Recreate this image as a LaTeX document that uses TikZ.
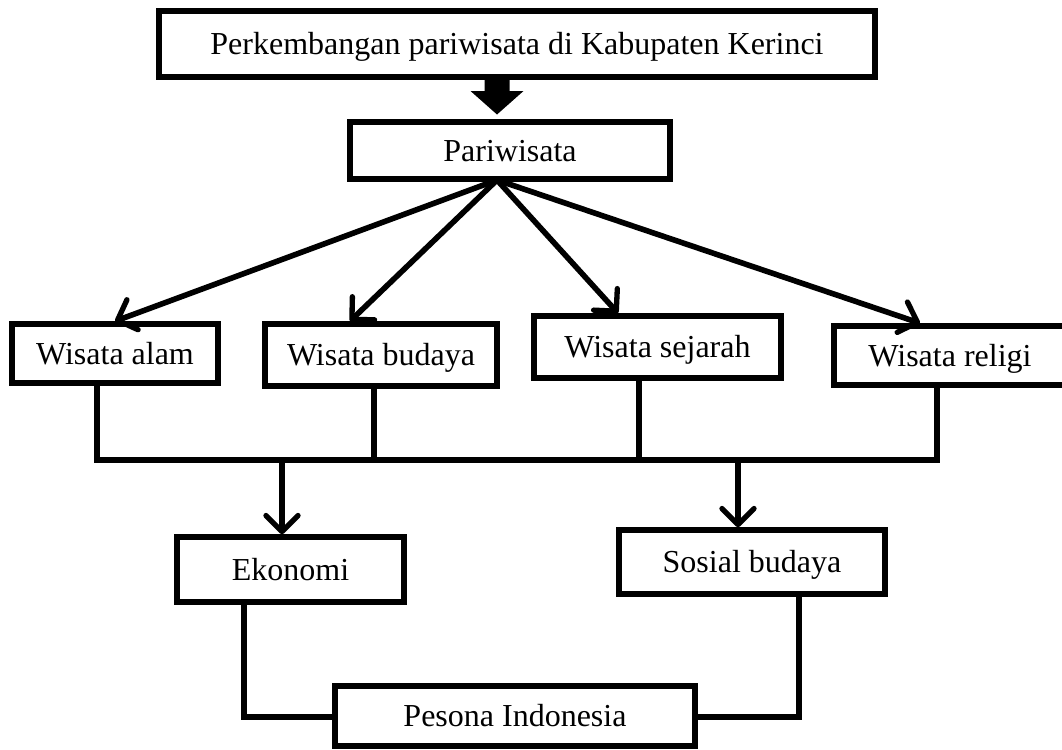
\documentclass[tikz,border=0pt]{standalone}
\usepackage{fontspec}
\setmainfont{Liberation Serif}
\usetikzlibrary{arrows.meta,calc}
\begin{document}
\begin{tikzpicture}[x=0.75pt,y=-0.75pt,
  box/.style={draw,line width=4.2pt,inner sep=0pt,fill=white,
    font=\fontsize{24}{28}\selectfont,text height=15.8pt,text depth=0pt},
  link/.style={line width=4.2pt},
  arr/.style={link,-{Straight Barb[length=12pt,width=24pt,line width=4pt,round]}}]
\clip (0,0) rectangle (1062,749);
\fill[white] (0,0) rectangle (1062,749);
% boxes
\node[box,minimum width=537pt,minimum height=49.5pt] (top) at (517,44) {Perkembangan pariwisata di Kabupaten Kerinci};
\node[box,minimum width=240pt,minimum height=42.75pt] (pari) at (510,150.5) {Pariwisata};
\node[box,minimum width=154.5pt,minimum height=44.25pt] (alam) at (115,353.5) {Wisata alam};
\node[box,minimum width=174pt,minimum height=46.5pt] (budaya) at (381,355) {Wisata budaya};
\node[box,minimum width=185.25pt,minimum height=46.5pt] (sejarah) at (657.5,347) {Wisata sejarah};
\node[box,minimum width=174pt,minimum height=44.25pt] (religi) at (950,355.5) {Wisata religi};
\node[box,minimum width=170.25pt,minimum height=48.75pt] (ekonomi) at (290.5,569.5) {Ekonomi};
\node[box,minimum width=199.5pt,minimum height=48pt] (sosial) at (752,562) {Sosial budaya};
\node[box,minimum width=270pt,minimum height=45pt] (pesona) at (515,716) {Pesona Indonesia};
% block arrow
\coordinate (ba) at (497,79);
\fill[black] (ba) ++(-12.5,0) -- ++(25,0) -- ++(0,12) -- ++(14,0) -- ++(-26.5,23.5) -- ++(-26.5,-23.5) -- ++(14,0) -- cycle;
% fan arrows
\coordinate (hub) at (497,180);
\draw[arr] (hub) -- (alam.north);
\draw[arr] (hub) -- ([xshift=-23.25pt]budaya.north);
\draw[arr] (hub) -- ([xshift=-29.6pt]sejarah.north);
\draw[arr] (hub) -- ([xshift=-22.5pt]religi.north);
% bus
\coordinate (busL) at (97,460);
\coordinate (busR) at (937,460);
\coordinate (bB) at (374,460);
\coordinate (bS) at (639,460);
\draw[link] (alam.south -| busL) -- (busL) -- (busR) -- (religi.south -| busR);
\draw[link] (budaya.south -| bB) -- (bB);
\draw[link] (sejarah.south -| bS) -- (bS);
\coordinate (dE) at (282,460);
\coordinate (dS) at (738,460);
\draw[arr] (dE) -- (ekonomi.north -| dE);
\draw[arr] (dS) -- (sosial.north -| dS);
% to pesona
\coordinate (cE) at (244,717);
\coordinate (cS) at (799,717);
\draw[link] (ekonomi.south -| cE) -- (cE) -- (pesona.west |- cE);
\draw[link] (sosial.south -| cS) -- (cS) -- (pesona.east |- cS);
\end{tikzpicture}
\end{document}
